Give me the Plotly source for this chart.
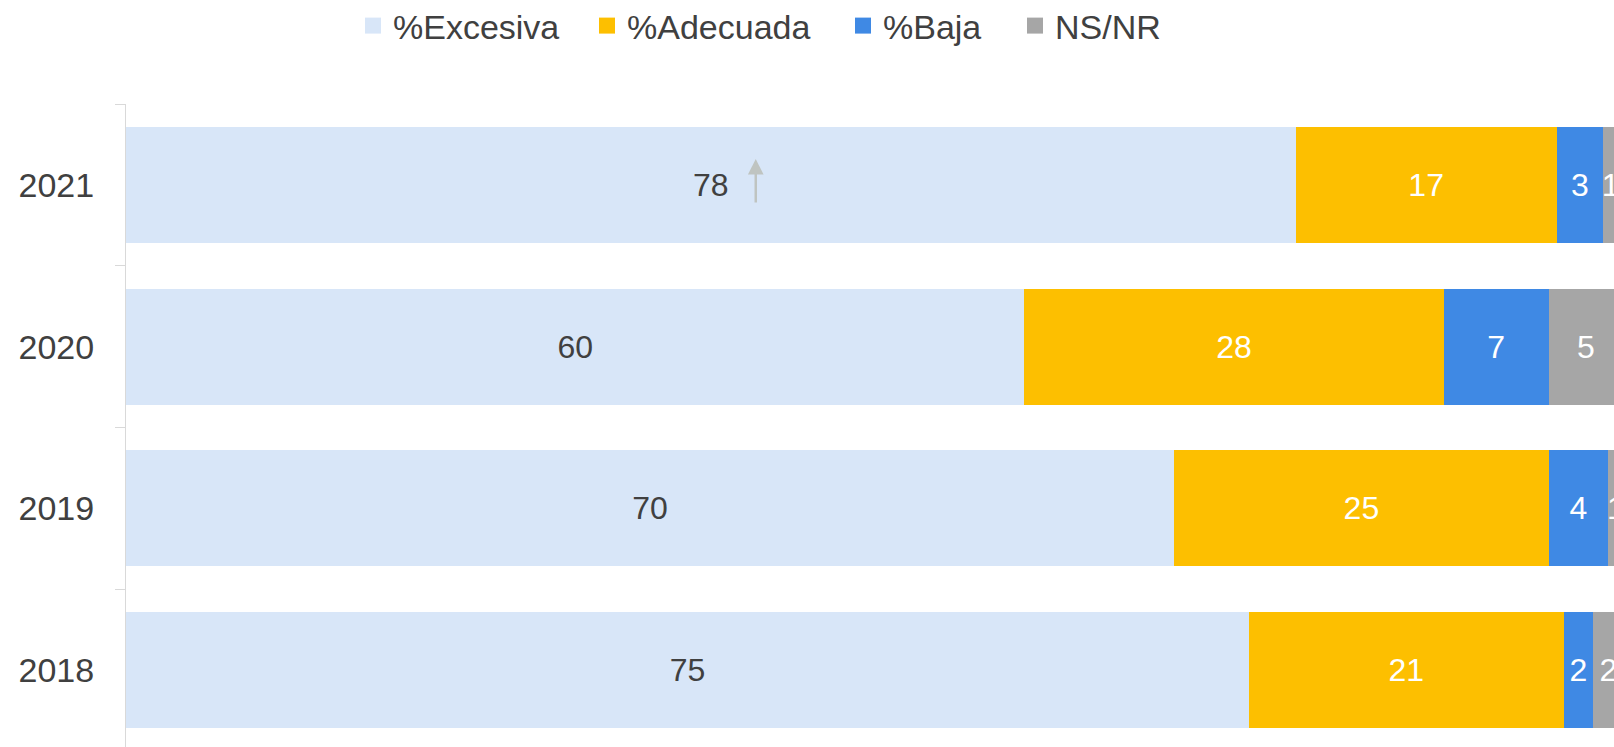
import plotly.graph_objects as go

years = ['2018', '2019', '2020', '2021']
excesiva = [75, 70, 60, 78.1]
adecuada = [21, 25, 28, 17.45]
baja = [2, 4, 7, 3.1]
nsnr = [2, 1, 5, 1]

series_names = ['%Excesiva', '%Adecuada', '%Baja', 'NS/NR']
series_vals = [excesiva, adecuada, baja, nsnr]
colors = ['#d8e6f8', '#fdbf00', '#3f89e4', '#a6a6a6']
label_colors = ['#404040', '#ffffff', '#ffffff', '#ffffff']

FONT = 'Arial, "Liberation Sans", sans-serif'
W, H = 1614, 747

fig = go.Figure()
for name, vals, c, lc in zip(series_names, series_vals, colors, label_colors):
    fig.add_trace(go.Bar(
        y=years, x=vals, name=name, orientation='h',
        marker=dict(color=c, line=dict(width=0)),
        texttemplate='%{x:.0f}', textposition='inside',
        insidetextanchor='middle', textangle=0,
        textfont=dict(family=FONT, size=32, color=lc),
        showlegend=False, hoverinfo='skip', cliponaxis=True,
    ))

# legend entries (one legend per entry for exact placement)
legend_left = [353, 587, 843, 1015]
for i, (name, c) in enumerate(zip(series_names, colors)):
    lg = 'legend' if i == 0 else f'legend{i+1}'
    fig.add_trace(go.Scatter(
        x=[None], y=[None], mode='markers', name=name,
        marker=dict(symbol='square', size=18, color=c, line=dict(width=0)),
        legend=lg, showlegend=True, hoverinfo='skip',
    ))

legend_common = dict(
    orientation='h', xref='container', yref='container',
    yanchor='middle', xanchor='left', y=1 - 26 / H,
    bgcolor='rgba(0,0,0,0)', borderwidth=0,
    font=dict(family=FONT, size=34, color='#404040'),
)
layout_legends = {}
for i, lx in enumerate(legend_left):
    key = 'legend' if i == 0 else f'legend{i+1}'
    layout_legends[key] = dict(legend_common, x=lx / W)

# arrow next to the 2021 "Excesiva" label
fig.add_annotation(
    x=excesiva[3] / 2, y=years.index('2021'), xref='x', yref='y',
    xshift=45, yshift=26, ax=0, ay=45,
    text='', showarrow=True, arrowhead=2, arrowsize=1.25,
    arrowwidth=2.5, arrowcolor='#bfc4c1', standoff=0,
)

fig.update_layout(
    template='none',
    width=W, height=H,
    margin=dict(l=125.5, r=0, t=103.5, b=0, pad=0, autoexpand=False),
    barmode='stack', bargap=0.284,
    plot_bgcolor='#ffffff', paper_bgcolor='#ffffff',
    uniformtext=dict(minsize=32, mode='show'),
    font=dict(family=FONT, color='#404040'),
    xaxis=dict(range=[0, 99.37], visible=False, showgrid=False,
               zeroline=False, automargin=False),
    yaxis=dict(
        type='category', categoryorder='array', categoryarray=years,
        range=[-0.475, 3.5], showgrid=False, zeroline=False,
        automargin=False,
        showline=True, linecolor='#d9d9d9', linewidth=1,
        ticks='outside', tickson='boundaries', ticklen=10,
        tickcolor='#d9d9d9', tickwidth=1, ticklabelstandoff=24,
        tickfont=dict(family=FONT, size=34, color='#404040'),
    ),
    **layout_legends,
)

fig.write_html(
    'out.html',
    config={'displayModeBar': False},
    post_script=(
        "document.body.style.margin='0';"
        "document.documentElement.style.overflow='hidden';"
        "document.body.style.overflow='hidden';"
    ),
)
